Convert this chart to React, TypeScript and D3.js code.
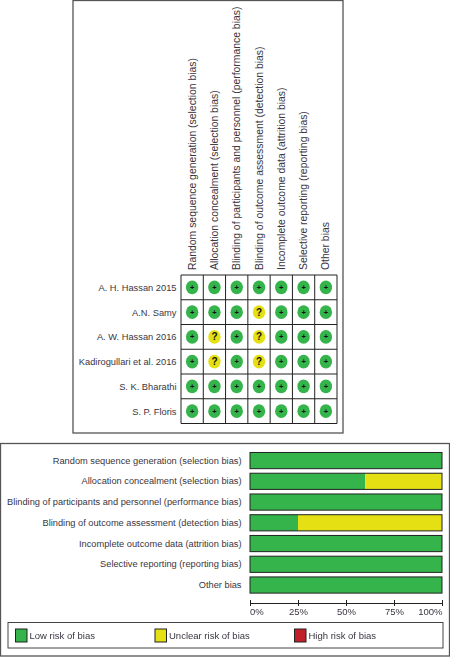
import React, { useEffect, useRef } from 'react';
import * as d3 from 'd3';

const domains = [
  'Random sequence generation (selection bias)',
  'Allocation concealment (selection bias)',
  'Blinding of participants and personnel (performance bias)',
  'Blinding of outcome assessment (detection bias)',
  'Incomplete outcome data (attrition bias)',
  'Selective reporting (reporting bias)',
  'Other bias',
];
const studies = ['A. H. Hassan 2015', 'A.N. Samy', 'A. W. Hassan 2016', 'Kadirogullari et al. 2016', 'S. K. Bharathi', 'S. P. Floris'];

// one string per study, one letter per domain: L = low, U = unclear
const judgements = ['LLLLLLL', 'LLLULLL', 'LULULLL', 'LULULLL', 'LLLLLLL', 'LLLLLLL'];

const lowPct = [100, 60, 100, 25, 100, 100, 100];
const unclearPct = [0, 40, 0, 75, 0, 0, 0];
const highPct = [0, 0, 0, 0, 0, 0, 0];
const pctTicks = [0, 25, 50, 75, 100];

const legendLabels = ['Low risk of bias', 'Unclear risk of bias', 'High risk of bias'];

const GREEN = '#34b44a';
const YELLOW = '#e4e014';
const RED = '#c1202a';
const TEXT = '#3a3540';
const FONT = '"Liberation Sans", Arial, sans-serif';

const App = () => {
  const svgRef = useRef<SVGSVGElement>(null);

  useEffect(() => {
    const svg = d3.select(svgRef.current);
    svg.selectAll('*').remove();
    svg.attr('font-family', FONT);

    // top panel: risk of bias summary
    svg.append('rect').attr('x', 73).attr('y', 0.5).attr('width', 270).attr('height', 432.5)
      .attr('fill', '#fff').attr('stroke', '#555').attr('stroke-width', 1.3);

    const xCol = d3.scaleBand().domain(domains).range([181, 337]);
    const yRow = d3.scaleBand().domain(studies).range([275, 423.5]);

    svg.append('g').selectAll('text').data(domains).enter().append('text')
      .attr('transform', d => `translate(${xCol(d)! + xCol.bandwidth() / 2 + 3.5},270) rotate(-90)`)
      .attr('font-size', 10.4).attr('fill', TEXT)
      .text(d => d);

    svg.append('g').selectAll('text').data(studies).enter().append('text')
      .attr('x', 176.5).attr('y', d => yRow(d)! + yRow.bandwidth() / 2 + 3.5)
      .attr('text-anchor', 'end').attr('font-size', 9.3).attr('fill', TEXT)
      .text(d => d);

    const grid = svg.append('g').attr('stroke', '#222').attr('stroke-width', 1);
    [...xCol.domain().map(d => xCol(d)!), xCol.range()[1]].forEach(x => {
      grid.append('line').attr('x1', x).attr('x2', x).attr('y1', yRow.range()[0]).attr('y2', yRow.range()[1]);
    });
    [...yRow.domain().map(d => yRow(d)!), yRow.range()[1]].forEach(y => {
      grid.append('line').attr('x1', xCol.range()[0]).attr('x2', xCol.range()[1]).attr('y1', y).attr('y2', y);
    });

    const cells = studies.flatMap((s, r) => domains.map((d, c) => ({ s, d, v: judgements[r][c] })));
    const cell = svg.append('g').selectAll('g').data(cells).enter().append('g')
      .attr('transform', d => `translate(${xCol(d.d)! + xCol.bandwidth() / 2},${yRow(d.s)! + yRow.bandwidth() / 2})`);
    cell.append('ellipse').attr('rx', 6.2).attr('ry', 6.8)
      .attr('fill', d => (d.v === 'L' ? GREEN : YELLOW));
    cell.append('text').attr('text-anchor', 'middle').attr('y', d => (d.v === 'L' ? 2.6 : 3.5))
      .attr('font-size', d => (d.v === 'L' ? 7.5 : 10)).attr('font-weight', 'bold').attr('fill', '#111')
      .text(d => (d.v === 'L' ? '+' : '?'));

    // bottom panel: risk of bias graph
    svg.append('rect').attr('x', 0.5).attr('y', 443.5).attr('width', 449).attr('height', 212.5)
      .attr('fill', '#fff').attr('stroke', '#555').attr('stroke-width', 1.3);

    const xPct = d3.scaleLinear().domain([0, 100]).range([250, 442]);
    const yBar = d3.scaleBand().domain(domains).range([450.2, 595.4]).paddingInner(0.22).paddingOuter(0.11);

    svg.append('g').selectAll('text').data(domains).enter().append('text')
      .attr('x', 241.5).attr('y', d => yBar(d)! + yBar.bandwidth() / 2 + 3)
      .attr('text-anchor', 'end').attr('font-size', 9.25).attr('fill', TEXT)
      .text(d => d);

    const stacked = d3.stack<number>().keys(['low', 'unclear', 'high'])
      .value((i, k) => (k === 'low' ? lowPct : k === 'unclear' ? unclearPct : highPct)[i])(d3.range(domains.length));
    const fills = [GREEN, YELLOW, RED];

    stacked.forEach((layer, k) => {
      svg.append('g').selectAll('rect').data(layer).enter().append('rect')
        .attr('x', d => xPct(d[0]))
        .attr('y', (d, i) => yBar(domains[i])!)
        .attr('width', d => xPct(d[1]) - xPct(d[0]))
        .attr('height', yBar.bandwidth())
        .attr('fill', fills[k]);
    });
    svg.append('g').selectAll('rect').data(domains).enter().append('rect')
      .attr('x', xPct(0)).attr('y', d => yBar(d)!)
      .attr('width', xPct(100) - xPct(0)).attr('height', yBar.bandwidth())
      .attr('fill', 'none').attr('stroke', '#222').attr('stroke-width', 1);

    const axis = svg.append('g').attr('transform', 'translate(0,603)')
      .call(d3.axisBottom(xPct).tickValues(pctTicks).tickFormat(d => `${d}%`).tickSize(3).tickSizeOuter(0));
    axis.select('.domain').attr('stroke', '#222');
    axis.selectAll('.tick line').attr('y1', -3).attr('stroke', '#222');
    axis.selectAll('.tick text').attr('font-family', FONT).attr('font-size', 9.5).attr('fill', TEXT).attr('y', 5);
    axis.selectAll('.tick text').filter(d => d === 0).attr('text-anchor', 'start').attr('x', -0.5);
    axis.selectAll('.tick text').filter(d => d === 100).attr('text-anchor', 'end');

    // legend
    svg.append('rect').attr('x', 8).attr('y', 622.5).attr('width', 435).attr('height', 25.5)
      .attr('fill', '#fff').attr('stroke', '#444').attr('stroke-width', 1);
    const xLegend = d3.scalePoint().domain(legendLabels).range([15.5, 294.5]);
    const item = svg.append('g').selectAll('g').data(legendLabels).enter().append('g')
      .attr('transform', d => `translate(${xLegend(d)},629)`);
    item.append('rect').attr('width', 11.5).attr('height', 13)
      .attr('fill', (d, i) => fills[i]).attr('stroke', '#222').attr('stroke-width', 1);
    item.append('text').attr('x', 14).attr('y', 10).attr('font-size', 9.5).attr('fill', TEXT).text(d => d);
  }, []);

  // the reference is a soft, resampled scan, so take the edge off
  return <svg ref={svgRef} width={450} height={657} style={{ position: 'absolute', left: 0, top: 0, filter: 'blur(0.3px)' }}></svg>;
};

export default App;
